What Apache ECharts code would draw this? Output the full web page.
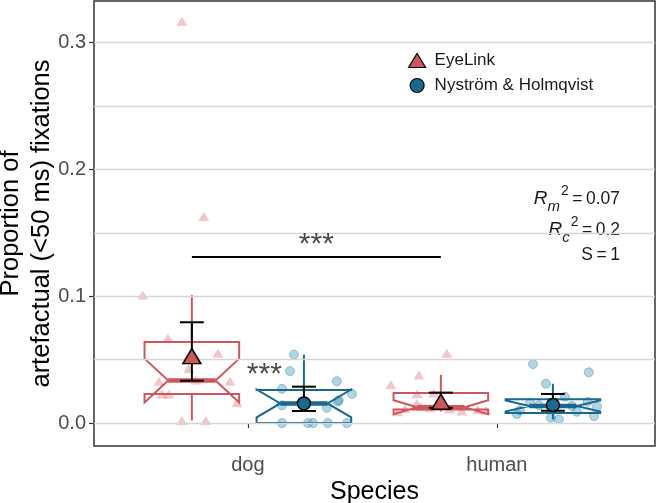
<!DOCTYPE html>
<html><head><meta charset="utf-8">
<script src="https://cdn.jsdelivr.net/npm/echarts@6/dist/echarts.min.js"></script>
<style>html,body{margin:0;padding:0;background:#fff}#c{width:656px;height:503px}</style>
</head><body><div id="c"></div>
<script>
// ---------- data ----------
const categories = ['dog', 'human'];
const methods = ['EyeLink', 'Nyström & Holmqvist'];
const yTicks = [0, 0.1, 0.2, 0.3];
const gridValues = [0, 0.05, 0.1, 0.15, 0.2, 0.25, 0.3];

// raw per-participant proportions (x = jittered category position)
const dogEyeLinkX = [0.735, 0.823, 0.578, 0.679, 0.880, 0.763, 0.791, 0.643, 0.928, 0.655, 0.683, 0.956, 0.735, 0.831];
const dogEyeLinkY = [0.317, 0.163, 0.101, 0.067, 0.055, 0.043, 0.034, 0.033, 0.033, 0.023, 0.023, 0.016, 0.002, 0.002];
const dogNHX = [1.185, 1.169, 1.357, 1.137, 1.418, 1.365, 1.361, 1.137, 1.317, 1.137, 1.241, 1.261, 1.321, 1.398];
const dogNHY = [0.054, 0.041, 0.033, 0.027, 0.023, 0.018, 0.017, 0.014, 0.012, 0.0, 0.0, 0.0, 0.0, 0.0];
const humanEyeLinkX = [1.799, 1.687, 1.574, 1.747, 1.679, 1.679, 1.695, 1.731, 1.631, 1.811, 1.924, 1.956, 1.859, 1.602];
const humanEyeLinkY = [0.055, 0.038, 0.0305, 0.0238, 0.0232, 0.0155, 0.013, 0.012, 0.0115, 0.011, 0.0105, 0.010, 0.0095, 0.009];
const humanNHX = [2.145, 2.369, 2.197, 2.273, 2.365, 2.133, 2.402, 2.321, 2.080, 2.390, 2.217, 2.249, 2.169, 2.092, 2.301];
const humanNHY = [0.0465, 0.040, 0.031, 0.0207, 0.0168, 0.016, 0.0129, 0.0089, 0.0071, 0.0055, 0.0042, 0.0029, 0.014, 0.010, 0.0135];

// model estimates with confidence intervals (dog, human)
const estEyeLink = [0.0528, 0.0168];
const loEyeLink = [0.0334, 0.0120];
const hiEyeLink = [0.0795, 0.0240];
const estNH = [0.0155, 0.0142];
const loNH = [0.0095, 0.0097];
const hiNH = [0.0287, 0.0229];

// significance annotations
const sigBracketY = 0.131;
const sigLabel = '***';
const sigWithinDog = [1.066, 0.029];

// model fit text
const statLines = [['m', '0.07'], ['c', '0.2']];
const sValue = '1';

// ---------- styling ----------
const RED = '#d1565b';
const BLUE = '#17698e';
const DODGE = 0.225;
const BOX_HALF = 0.19;
const FONT = '"Liberation Sans", Arial, sans-serif';

function quantile(arr, p) {
  const s = arr.slice().sort((a, b) => a - b);
  const h = (s.length - 1) * p;
  const lo = Math.floor(h), hi = Math.ceil(h);
  return s[lo] + (s[hi] - s[lo]) * (h - lo);
}
function boxStats(vals, xc) {
  const q1 = quantile(vals, 0.25), med = quantile(vals, 0.5), q3 = quantile(vals, 0.75);
  const iqr = q3 - q1;
  const inside = vals.filter(v => v >= q1 - 1.5 * iqr && v <= q3 + 1.5 * iqr);
  const lw = Math.min(...inside), hw = Math.max(...inside);
  const nd = 1.58 * iqr / Math.sqrt(vals.length);
  return [xc, lw, q1, med, q3, hw, med - nd, med + nd];
}
const pair = (xs, ys) => xs.map((x, i) => [x, ys[i]]);

const boxEL = [boxStats(dogEyeLinkY, 1 - DODGE), boxStats(humanEyeLinkY, 2 - DODGE)];
const boxNH = [boxStats(dogNHY, 1 + DODGE), boxStats(humanNHY, 2 + DODGE)];

function boxRenderer(color) {
  return function (params, api) {
    const x = api.value(0);
    const lw = api.value(1), q1 = api.value(2), med = api.value(3), q3 = api.value(4), hw = api.value(5);
    const nlo = api.value(6), nhi = api.value(7);
    const Y = v => api.coord([x, v])[1];
    const cx = api.coord([x, med])[0];
    const half = api.size([BOX_HALF, 0])[0];
    const ind = half * 0.5;
    const xl = cx - half, xr = cx + half;
    const pts = [[xl, Y(q3)], [xl, Y(nhi)], [xl + ind, Y(med)], [xl, Y(nlo)], [xl, Y(q1)],
                 [xr, Y(q1)], [xr, Y(nlo)], [xr - ind, Y(med)], [xr, Y(nhi)], [xr, Y(q3)]];
    const ls = { stroke: color, lineWidth: 2 };
    return { type: 'group', children: [
      { type: 'line', shape: { x1: cx, y1: Y(q3), x2: cx, y2: Y(hw) }, style: ls },
      { type: 'line', shape: { x1: cx, y1: Y(q1), x2: cx, y2: Y(lw) }, style: ls },
      { type: 'polygon', shape: { points: pts }, style: { fill: 'none', stroke: color, lineWidth: 2, lineJoin: 'miter' } },
      { type: 'line', shape: { x1: xl + ind, y1: Y(med), x2: xr - ind, y2: Y(med) }, style: { stroke: color, lineWidth: 4.5 } }
    ]};
  };
}
function errRenderer(params, api) {
  const x = api.value(0);
  const pLo = api.coord([x, api.value(2)]);
  const pHi = api.coord([x, api.value(3)]);
  const cap = api.size([0.048, 0])[0];
  const st = { stroke: '#000', lineWidth: 2 };
  return { type: 'group', children: [
    { type: 'line', shape: { x1: pLo[0], y1: pLo[1], x2: pHi[0], y2: pHi[1] }, style: st },
    { type: 'line', shape: { x1: pLo[0] - cap, y1: pLo[1], x2: pLo[0] + cap, y2: pLo[1] }, style: st },
    { type: 'line', shape: { x1: pHi[0] - cap, y1: pHi[1], x2: pHi[0] + cap, y2: pHi[1] }, style: st }
  ]};
}
const errData = (est, lo, hi, off) => est.map((e, i) => [i + 1 + off, e, lo[i], hi[i]]);

const chart = echarts.init(document.getElementById('c'), null, { renderer: 'canvas' });

const statGraphics = [];
statLines.forEach((s, i) => {
  statGraphics.push({
    type: 'text', x: 620, y: 199 + i * 31,
    style: {
      text: '{i|R}{sub|' + s[0] + '}{sup|2}{n|\u2009=\u20090' + s[1].slice(1) + '}',
      align: 'right', verticalAlign: 'middle', fill: '#1a1a1a',
      rich: {
        i: { fontFamily: FONT, fontStyle: 'italic', fontSize: 19, lineHeight: 30, fill: '#1a1a1a' },
        sub: { fontFamily: FONT, fontStyle: 'italic', fontSize: 15, lineHeight: 14, verticalAlign: 'bottom', fill: '#1a1a1a' },
        sup: { fontFamily: FONT, fontSize: 14, lineHeight: 14, verticalAlign: 'top', fill: '#1a1a1a', padding: [0, 0, 0, 1] },
        n: { fontFamily: FONT, fontSize: 17.5, lineHeight: 30, fill: '#1a1a1a' }
      }
    }
  });
});
statGraphics.push({
  type: 'text', x: 620, y: 255,
  style: { text: 'S\u2009=\u2009' + sValue, align: 'right', verticalAlign: 'middle', fill: '#1a1a1a', font: '17.5px ' + FONT }
});

const option = {
  backgroundColor: '#fff',
  animation: false,
  textStyle: { fontFamily: FONT },
  grid: { left: 94, right: 1, top: 1, bottom: 57, show: true, borderColor: '#333', borderWidth: 1.5, containLabel: false, outerBoundsMode: 'none' },
  legend: {
    orient: 'vertical', left: 403, top: 47, itemWidth: 17, itemHeight: 14, itemGap: 8,
    textStyle: { fontSize: 17, color: '#1a1a1a', fontFamily: FONT, padding: [0, 0, 0, 4] },
    data: [
      { name: methods[0], icon: 'triangle', itemStyle: { color: RED, borderColor: '#000', borderWidth: 1.2 } },
      { name: methods[1], icon: 'circle', itemStyle: { color: BLUE, borderColor: '#000', borderWidth: 1.2 } }
    ]
  },
  xAxis: {
    type: 'value', min: 0.382, max: 2.635,
    name: 'Species', nameLocation: 'middle', nameGap: 30,
    nameTextStyle: { fontSize: 25, color: '#000', fontFamily: FONT },
    axisLine: { show: false },
    splitLine: { show: false },
    axisTick: { show: true, length: 5, lineStyle: { color: '#333', width: 1.2 }, customValues: [1, 2] },
    axisLabel: { customValues: [1, 2], fontSize: 20, color: '#4d4d4d', margin: 9, fontFamily: FONT,
      formatter: v => categories[Math.round(v) - 1] || '' }
  },
  yAxis: {
    type: 'value', min: -0.0181, max: 0.3329,
    name: 'Proportion of\nartefactual (<50 ms) fixations', nameLocation: 'middle', nameGap: 37,
    nameMoveOverlap: false,
    nameTextStyle: { fontSize: 25.5, color: '#000', fontFamily: FONT, lineHeight: 31 },
    axisLine: { show: false },
    splitLine: { show: false },
    axisTick: { show: true, length: 5, lineStyle: { color: '#333', width: 1.2 }, customValues: yTicks },
    axisLabel: { customValues: yTicks, fontSize: 20, color: '#4d4d4d', margin: 8, fontFamily: FONT,
      formatter: v => v.toFixed(1) }
  },
  graphic: statGraphics,
  series: [
    { type: 'scatter', name: 'grid', data: [], silent: true, z: 0,
      markLine: { silent: true, symbol: 'none', animation: false, label: { show: false },
        lineStyle: { color: '#d6d6d6', width: 1.3, type: 'solid' },
        data: gridValues.map(v => ({ yAxis: v })) } },
    { type: 'scatter', name: 'EyeLink points', data: pair(dogEyeLinkX, dogEyeLinkY).concat(pair(humanEyeLinkX, humanEyeLinkY)),
      symbol: 'triangle', symbolSize: [11, 9], itemStyle: { color: 'rgba(214,90,98,0.42)' }, z: 2 },
    { type: 'scatter', name: 'NH points', data: pair(dogNHX, dogNHY).concat(pair(humanNHX, humanNHY)),
      symbol: 'circle', symbolSize: 9, itemStyle: { color: 'rgba(60,150,185,0.5)', borderColor: 'rgba(30,110,145,0.45)', borderWidth: 1 }, z: 2 },
    { type: 'custom', name: 'EyeLink box', data: boxEL, renderItem: boxRenderer(RED), z: 3, silent: true,
      encode: { x: 0, y: [1, 5] } },
    { type: 'custom', name: 'NH box', data: boxNH, renderItem: boxRenderer(BLUE), z: 3, silent: true,
      encode: { x: 0, y: [1, 5] } },
    { type: 'custom', name: 'err EL', data: errData(estEyeLink, loEyeLink, hiEyeLink, -DODGE), renderItem: errRenderer, z: 4, silent: true,
      encode: { x: 0, y: [2, 3] } },
    { type: 'custom', name: 'err NH', data: errData(estNH, loNH, hiNH, DODGE), renderItem: errRenderer, z: 4, silent: true,
      encode: { x: 0, y: [2, 3] } },
    { type: 'scatter', name: methods[0], data: estEyeLink.map((e, i) => [i + 1 - DODGE, e]),
      symbol: 'triangle', symbolSize: [18, 15], itemStyle: { color: RED, borderColor: '#000', borderWidth: 1.5, opacity: 1 }, z: 5 },
    { type: 'scatter', name: methods[1], data: estNH.map((e, i) => [i + 1 + DODGE, e]),
      symbol: 'circle', symbolSize: 13, itemStyle: { color: BLUE, borderColor: '#000', borderWidth: 1.5, opacity: 1 }, z: 5 },
    { type: 'line', name: 'sig', data: [[1 - DODGE, sigBracketY], [2 - DODGE, sigBracketY]], symbol: 'none',
      lineStyle: { color: '#000', width: 2 }, z: 5, silent: true },
    { type: 'scatter', name: 'sig labels', symbolSize: 0, silent: true, z: 6,
      data: [[1.5 - DODGE, sigBracketY], sigWithinDog],
      label: { show: true, formatter: sigLabel, position: 'top', distance: -3, fontSize: 30, color: '#1a1a1a', fontFamily: FONT } }
  ]
};
chart.setOption(option);
</script></body></html>
